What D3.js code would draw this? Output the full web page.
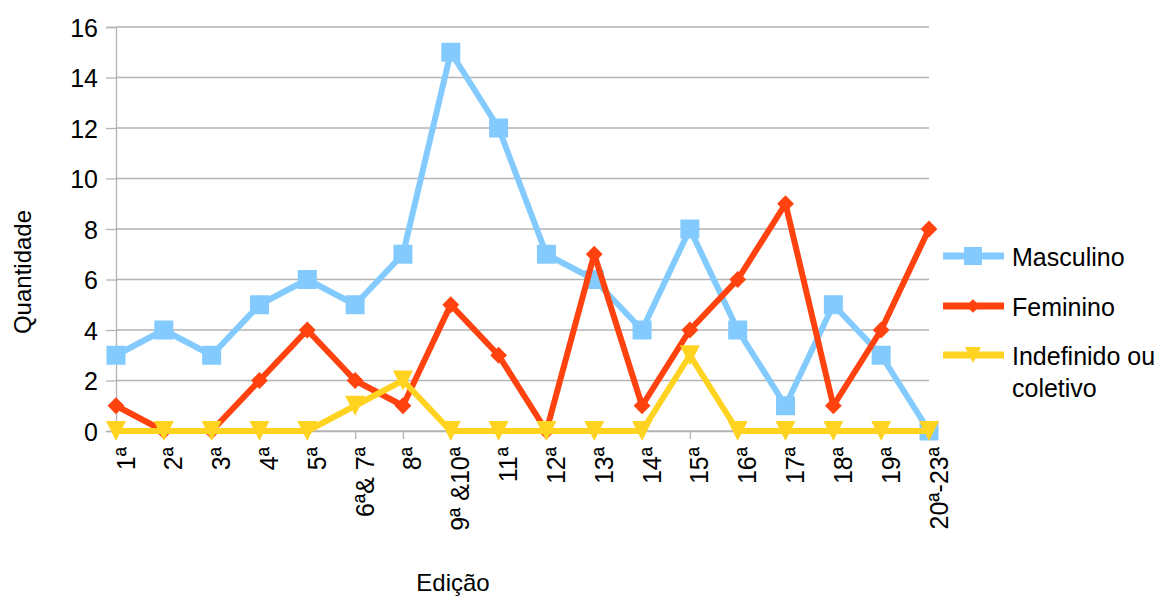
<!DOCTYPE html>
<html>
<head>
<meta charset="utf-8">
<script src="https://cdn.jsdelivr.net/npm/d3@7/dist/d3.min.js"></script>
<style>
  body { margin: 0; background: #fff; }
  svg { font-family: "Liberation Sans", Arial, sans-serif; }
</style>
</head>
<body>
<svg id="chart" width="1157" height="597"></svg>
<script>
const categories = ["1ª","2ª","3ª","4ª","5ª","6ª& 7ª","8ª","9ª &10ª","11ª","12ª","13ª","14ª","15ª","16ª","17ª","18ª","19ª","20ª-23ª"];
const masculino  = [3,4,3,5,6,5,7,15,12,7,6,4,8,4,1,5,3,0];
const feminino   = [1,0,0,2,4,2,1,5,3,0,7,1,4,6,9,1,4,8];
const indefinido = [0,0,0,0,0,1,2,0,0,0,0,0,3,0,0,0,0,0];
const yTicks = [0,2,4,6,8,10,12,14,16];
const seriesNames = ["Masculino","Feminino","Indefinido ou coletivo"];

const series = [
  { name: seriesNames[0], values: masculino,  color: "#83caff", marker: "square" },
  { name: seriesNames[1], values: feminino,   color: "#ff420e", marker: "diamond" },
  { name: seriesNames[2], values: indefinido, color: "#ffd320", marker: "triangle" }
];

const FONT = "Liberation Sans, Arial, sans-serif";
const svg = d3.select("#chart");
const plotLeft = 116, plotRight = 929, plotTop = 27, plotBottom = 431;

const x = d3.scalePoint().domain(categories).range([plotLeft, plotRight]);
const y = d3.scaleLinear().domain([0, 16]).range([plotBottom, plotTop]);

// horizontal grid
svg.append("g").selectAll("line").data(yTicks).join("line")
  .attr("x1", plotLeft).attr("x2", plotRight)
  .attr("y1", d => y(d)).attr("y2", d => y(d))
  .attr("stroke", "#b3b3b3").attr("stroke-width", 1.3);

// y axis
const yAxis = svg.append("g").attr("transform", `translate(${plotLeft},0)`)
  .call(d3.axisLeft(y).tickValues(yTicks).tickSize(10).tickPadding(8));
yAxis.select(".domain").attr("stroke", "#b3b3b3").attr("stroke-width", 1.3);
yAxis.selectAll(".tick line").attr("stroke", "#b3b3b3").attr("stroke-width", 1.3);
yAxis.selectAll(".tick text").attr("font-size", 25).attr("fill", "#000")
  .attr("font-family", FONT).attr("dy", "0.36em");

// x axis
const xAxis = svg.append("g").attr("transform", `translate(0,${plotBottom})`)
  .call(d3.axisBottom(x).tickSize(8).tickPadding(0));
xAxis.select(".domain").attr("stroke", "#b3b3b3").attr("stroke-width", 1.3);
xAxis.selectAll(".tick line").attr("stroke", "#b3b3b3").attr("stroke-width", 1.3);
xAxis.selectAll(".tick text")
  .attr("font-size", 25).attr("fill", "#000")
  .attr("font-family", FONT)
  .attr("text-anchor", "end")
  .attr("dy", null)
  .attr("transform", "translate(10,16) rotate(-90)");

// marker shapes
const downTriangle = {
  draw(ctx, size) {
    const w = Math.sqrt(size), h = w;
    ctx.moveTo(-w / 2, -h / 2);
    ctx.lineTo(w / 2, -h / 2);
    ctx.lineTo(0, h / 2);
    ctx.closePath();
  }
};
const symbolFor = {
  square: d3.symbol().type(d3.symbolSquare).size(361),
  diamond: d3.symbol().type(d3.symbolDiamond2).size(180),
  triangle: d3.symbol().type(downTriangle).size(400)
};
const legendSymbol = {
  square: d3.symbol().type(d3.symbolSquare).size(324),
  diamond: d3.symbol().type(d3.symbolDiamond2).size(120),
  triangle: d3.symbol().type(downTriangle).size(256)
};

const line = d3.line().x((d, i) => x(categories[i])).y(d => y(d));

series.forEach(s => {
  const g = svg.append("g");
  g.append("path").datum(s.values)
    .attr("d", line).attr("fill", "none")
    .attr("stroke", s.color).attr("stroke-width", 6)
    .attr("stroke-linejoin", "round");
  g.selectAll("path.m").data(s.values).join("path").attr("class", "m")
    .attr("d", symbolFor[s.marker])
    .attr("fill", s.color)
    .attr("transform", (d, i) => `translate(${x(categories[i])},${y(d)})`);
});

// legend
const legendY = [256, 306, 355];
series.forEach((s, i) => {
  const g = svg.append("g").attr("transform", `translate(943,${legendY[i]})`);
  g.append("line").attr("x1", 0).attr("x2", 61).attr("y1", 0).attr("y2", 0)
    .attr("stroke", s.color).attr("stroke-width", 7);
  g.append("path").attr("d", legendSymbol[s.marker]).attr("fill", s.color)
    .attr("transform", "translate(30,0)");
  const t = g.append("text").attr("x", 69).attr("y", 10)
    .attr("font-size", 25).attr("font-family", FONT).attr("fill", "#000");
  if (i === 2) {
    t.append("tspan").attr("x", 69).text("Indefinido ou");
    t.append("tspan").attr("x", 69).attr("dy", 32).text("coletivo");
  } else {
    t.text(s.name);
  }
});

// axis titles
svg.append("text").attr("transform", "translate(31,272) rotate(-90)")
  .attr("text-anchor", "middle").attr("font-size", 24).attr("font-family", FONT)
  .text("Quantidade");
svg.append("text").attr("x", 453).attr("y", 591)
  .attr("text-anchor", "middle").attr("font-size", 24).attr("font-family", FONT)
  .text("Edição");
</script>
</body>
</html>
